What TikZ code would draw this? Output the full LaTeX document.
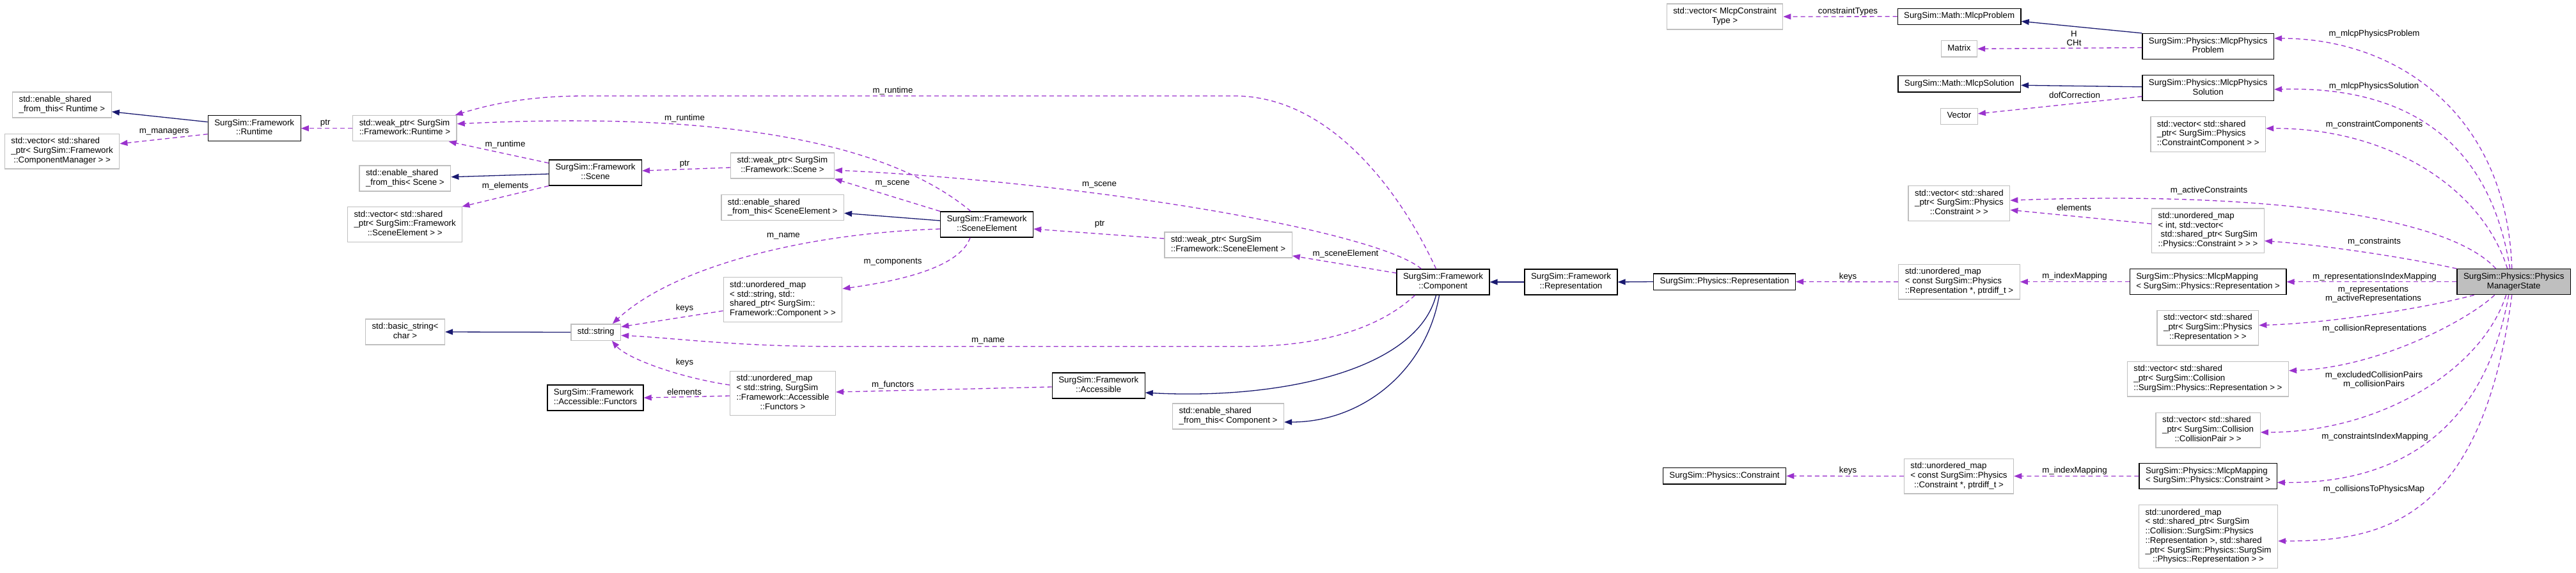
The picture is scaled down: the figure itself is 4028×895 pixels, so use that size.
\documentclass[tikz,border=0pt]{standalone}
\usepackage{fontspec}
\setmainfont{Liberation Sans}
\usetikzlibrary{arrows.meta}
\definecolor{EdgePurple}{HTML}{9A32CD}
\definecolor{EdgeBlue}{HTML}{191970}
\definecolor{BoxGray}{HTML}{BFBFBF}
% lines left aligned, last line centred
\newcommand{\dx}[2]{\begin{tabular}{@{}l@{}}#1\\\multicolumn{1}{@{}c@{}}{#2}\end{tabular}}

\begin{document}
\begin{tikzpicture}[x=1pt, y=-1pt,
  box/.style={rectangle, font=\fontsize{13.3}{14.7}\selectfont, inner xsep=10pt, inner ysep=5.3pt, line width=1.3pt, fill=white},
  cls/.style={box, draw=black},
  ext/.style={box, draw=BoxGray},
  mgr/.style={box, draw=black, fill=BoxGray},
  usage/.style={EdgePurple, line width=1.3pt, dash pattern=on 7pt off 5pt, -{Triangle[length=12pt,width=9pt]}},
  inherit/.style={EdgeBlue, line width=1.3pt, -{Triangle[length=12pt,width=9pt]}},
  lbl/.style={font=\fontsize{13.3}{14}\selectfont, inner sep=0pt, align=center}]
  \useasboundingbox (0,0) rectangle (4028,895);
  \fill[white] (0,0) rectangle (4028,895);

  % Framework side
  \node[ext] (esft_runtime) at (96.9,164) {\dx{std::enable\_shared}{\_from\_this< Runtime >}};
  \node[ext] (vec_mgr) at (97.1,236.7) {\dx{std::vector< std::shared\\\_ptr< SurgSim::Framework}{::ComponentManager > >}};
  \node[cls] (runtime) at (397.7,200.7) {\dx{SurgSim::Framework}{::Runtime}};
  \node[ext] (weak_runtime) at (632.9,200.7) {\dx{std::weak\_ptr< SurgSim}{::Framework::Runtime >}};
  \node[ext] (esft_scene) at (633.4,279) {\dx{std::enable\_shared}{\_from\_this< Scene >}};
  \node[ext] (vec_se) at (633.2,351) {\dx{std::vector< std::shared\\\_ptr< SurgSim::Framework}{::SceneElement > >}};
  \node[ext] (basic_string) at (633.5,519) {\dx{std::basic\_string<}{char >}};
  \node[cls] (scene) at (931,270) {\dx{SurgSim::Framework}{::Scene}};
  \node[ext] (string) at (931.8,519.5) {\strut std::string};
  \node[cls] (functors) at (931,622) {\dx{SurgSim::Framework}{::Accessible::Functors}};
  \node[ext] (weak_scene) at (1223.5,259) {\dx{std::weak\_ptr< SurgSim}{::Framework::Scene >}};
  \node[ext] (esft_se) at (1223.7,324.7) {\dx{std::enable\_shared}{\_from\_this< SceneElement >}};
  \node[ext] (umap_comp) at (1224,468.5) {\dx{std::unordered\_map\\< std::string, std::\\shared\_ptr< SurgSim::}{Framework::Component > >}};
  \node[ext] (umap_func) at (1224,615) {\dx{std::unordered\_map\\< std::string, SurgSim\\::Framework::Accessible}{::Functors >}};
  \node[cls] (scene_element) at (1543,351) {\dx{SurgSim::Framework}{::SceneElement}};
  \node[cls] (accessible) at (1717.7,603) {\dx{SurgSim::Framework}{::Accessible}};
  \node[ext] (weak_se) at (1920.5,383) {\dx{std::weak\_ptr< SurgSim}{::Framework::SceneElement >}};
  \node[ext] (esft_comp) at (1920.6,651) {\dx{std::enable\_shared}{\_from\_this< Component >}};
  \node[cls] (component) at (2256.5,441) {\dx{SurgSim::Framework}{::Component}};
  \node[cls] (representation_fw) at (2456.5,441) {\dx{SurgSim::Framework}{::Representation}};

  % Physics side
  \node[cls] (phys_rep) at (2696.5,440.5) {\strut SurgSim::Physics::Representation};
  \node[cls] (phys_constraint) at (2696.5,744.3) {\strut SurgSim::Physics::Constraint};
  \node[ext] (vec_mct) at (2697,26) {\dx{std::vector< MlcpConstraint}{Type >}};
  \node[cls] (math_problem) at (3063.6,25.8) {\strut SurgSim::Math::MlcpProblem};
  \node[ext] (matrix) at (3063.4,76.3) {\strut Matrix};
  \node[cls] (math_solution) at (3063.7,131.3) {\strut SurgSim::Math::MlcpSolution};
  \node[ext] (vector) at (3063.4,181.8) {\strut Vector};
  \node[ext] (vec_constraint) at (3063.4,317.8) {\dx{std::vector< std::shared\\\_ptr< SurgSim::Physics}{::Constraint > >}};
  \node[ext] (umap_rep) at (3063.5,440.7) {\dx{std::unordered\_map\\< const SurgSim::Physics}{::Representation *, ptrdiff\_t >}};
  \node[ext] (umap_con) at (3063,744.5) {\dx{std::unordered\_map\\< const SurgSim::Physics}{::Constraint *, ptrdiff\_t >}};
  \node[cls] (mlcp_phys_problem) at (3452.7,72.5) {\dx{SurgSim::Physics::MlcpPhysics}{Problem}};
  \node[cls] (mlcp_phys_solution) at (3452.7,137.8) {\dx{SurgSim::Physics::MlcpPhysics}{Solution}};
  \node[ext] (vec_cc) at (3452.7,209.8) {\dx{std::vector< std::shared\\\_ptr< SurgSim::Physics}{::ConstraintComponent > >}};
  \node[ext] (umap_int) at (3452.5,360.7) {\dx{std::unordered\_map\\< int, std::vector<\\\hspace{4pt}std::shared\_ptr< SurgSim}{::Physics::Constraint > > >}};
  \node[cls] (mlcp_map_rep) at (3452.6,440.7) {\dx{SurgSim::Physics::MlcpMapping}{< SurgSim::Physics::Representation >}};
  \node[ext] (vec_rep) at (3452.4,512.6) {\dx{std::vector< std::shared\\\_ptr< SurgSim::Physics}{::Representation > >}};
  \node[ext] (vec_cpr) at (3452.4,592.6) {\dx{std::vector< std::shared\\\_ptr< SurgSim::Collision}{::SurgSim::Physics::Representation > >}};
  \node[ext] (vec_cp) at (3452.6,672.6) {\dx{std::vector< std::shared\\\_ptr< SurgSim::Collision}{::CollisionPair > >}};
  \node[cls] (mlcp_map_con) at (3452.6,744.4) {\dx{SurgSim::Physics::MlcpMapping}{< SurgSim::Physics::Constraint >}};
  \node[ext] (umap_coll) at (3453,839) {\dx{std::unordered\_map\\< std::shared\_ptr< SurgSim\\::Collision::SurgSim::Physics\\::Representation >, std::shared\\\_ptr< SurgSim::Physics::SurgSim}{::Physics::Representation > >}};
  \node[mgr] (manager) at (3930.7,440.7) {\dx{SurgSim::Physics::Physics}{ManagerState}};

  % Inheritance
  \draw[inherit] ([yshift=10pt]runtime.west) -- ([yshift=-10.7pt]esft_runtime.east);
  \draw[inherit] ([yshift=-2pt]scene.west) -- ([yshift=2.3pt]esft_scene.east);
  \draw[inherit] ([yshift=6pt]scene_element.west) -- ([yshift=-8.6pt]esft_se.east);
  \draw[inherit] (string.west) -- (basic_string.east);
  \draw[inherit] ([xshift=-11pt]component.south) .. controls (2215,580) and (2000,625) .. ([yshift=-11pt]accessible.east);
  \draw[inherit] ([xshift=-6pt]component.south) .. controls (2230,580) and (2130,660) .. ([yshift=-9pt]esft_comp.east);
  \draw[inherit] (representation_fw.west) -- (component.east);
  \draw[inherit] (phys_rep.west) -- (representation_fw.east);
  \draw[inherit] (mlcp_phys_problem.north west) -- ([yshift=-7.5pt]math_problem.east);
  \draw[inherit] ([yshift=2pt]mlcp_phys_solution.west) -- ([yshift=-2pt]math_solution.east);

  % Usage, framework side
  \draw[usage] ([yshift=-9pt]runtime.west) -- ([yshift=12pt]vec_mgr.east);
  \draw[usage] (weak_runtime.west) -- (runtime.east);
  \draw[usage] ([yshift=15pt]scene.west) -- ([xshift=-13pt]weak_runtime.south east);
  \draw[usage] (scene.south west) -- ([xshift=-1pt]vec_se.north east);
  \draw[usage] ([yshift=-3pt]weak_scene.west) -- ([yshift=3pt]scene.east);
  \draw[usage] (scene_element.north west) -- (weak_scene.south east);
  \draw[usage] ([xshift=-25pt]scene_element.north) .. controls (1350,190) and (1000,180) .. ([yshift=7pt]weak_runtime.east);
  \draw[usage] ([yshift=-7pt]scene_element.west) .. controls (1250,365) and (1050,420) .. ([xshift=26pt]string.north);
  \draw[usage] ([xshift=-26pt]scene_element.south) .. controls (1500,420) and (1400,440) .. ([yshift=17pt]umap_comp.east);
  \draw[usage] ([yshift=10pt]weak_se.west) -- ([yshift=-7pt]scene_element.east);
  \draw[usage] ([yshift=14pt]component.west) -- ([yshift=-17pt]weak_se.east);
  \draw[usage] ([xshift=-44pt]component.south) .. controls (2150,520) and (2050,541.7) .. (1944,541.7)
    -- (1300,541.7) .. controls (1150,541.7) and (1050,528) .. ([yshift=-5pt]string.east);
  \draw[usage] ([xshift=-11pt]component.north) .. controls (2190,300) and (2080,150) .. (1930,150)
    -- (915,150) .. controls (820,150) and (760,165) .. ([xshift=-3pt]weak_runtime.north east);
  \draw[usage] ([xshift=-34pt]component.north) .. controls (2150,360) and (1700,285) .. ([yshift=-7pt]weak_scene.east);
  \draw[usage] ([yshift=-17.5pt]umap_comp.west) -- ([yshift=8.5pt]string.east);
  \draw[usage] ([yshift=13pt]umap_func.west) .. controls (1060,590) and (980,560) .. ([xshift=25pt]string.south);
  \draw[usage] ([yshift=-4pt]umap_func.west) -- (functors.east);
  \draw[usage] ([yshift=-2pt]accessible.west) -- ([yshift=2pt]umap_func.east);

  % Usage, physics side
  \draw[usage] (math_problem.west) -- (vec_mct.east);
  \draw[usage] ([yshift=-2pt]mlcp_phys_problem.west) -- (matrix.east);
  \draw[usage] ([yshift=-13pt]mlcp_phys_solution.west) -- ([yshift=4pt]vector.east);
  \draw[usage] ([yshift=10.7pt]umap_int.west) -- ([yshift=-10.5pt]vec_constraint.east);
  \draw[usage] (mlcp_map_rep.west) -- (umap_rep.east);
  \draw[usage] (umap_rep.west) -- (phys_rep.east);
  \draw[usage] (mlcp_map_con.west) -- (umap_con.east);
  \draw[usage] (umap_con.west) -- (phys_constraint.east);

  % Members of the state
  \draw[usage] ([xshift=-3pt]manager.north) .. controls (3920,180) and (3750,60) .. ([yshift=12.5pt]mlcp_phys_problem.east);
  \draw[usage] ([xshift=-6pt]manager.north) .. controls (3890,200) and (3740,135) .. ([yshift=-2pt]mlcp_phys_solution.east);
  \draw[usage] ([xshift=-10pt]manager.north) .. controls (3880,290) and (3730,200) .. ([yshift=9pt]vec_cc.east);
  \draw[usage] ([xshift=-28pt]manager.north) .. controls (3820,330) and (3500,300) .. ([yshift=4.5pt]vec_constraint.east);
  \draw[usage] (manager.north west) .. controls (3750,400) and (3620,382) .. ([yshift=-16pt]umap_int.east);
  \draw[usage] (manager.west) -- (mlcp_map_rep.east);
  \draw[usage] ([xshift=-62pt]manager.south) .. controls (3800,480) and (3650,505) .. ([yshift=4pt]vec_rep.east);
  \draw[usage] ([xshift=-30pt]manager.south) .. controls (3860,500) and (3720,575) .. ([yshift=13pt]vec_cpr.east);
  \draw[usage] ([xshift=-12pt]manager.south) .. controls (3880,580) and (3720,676) .. ([yshift=-3.4pt]vec_cp.east);
  \draw[usage] ([xshift=-8pt]manager.south) .. controls (3880,700) and (3720,756) .. ([yshift=-10pt]mlcp_map_con.east);
  \draw[usage] ([xshift=-3pt]manager.south) .. controls (3880,820) and (3720,846) .. ([yshift=-7pt]umap_coll.east);

  % Edge labels
  \foreach \n/\x/\y/\txt in {lb_managers/256.7/206/m\_managers, lb_ptrrt/508.7/192.7/ptr,
      lb_rtscene/790/225.7/m\_runtime, lb_elements/790/290.7/m\_elements,
      lb_ptrscene/1070.6/256.7/ptr, lb_rtse/1070.5/185/m\_runtime,
      lb_rtcomp/1396/141.7/m\_runtime, lb_scenese/1395.6/287/m\_scene,
      lb_scenecomp/1719/289/m\_scene, lb_namese/1225/369/m\_name,
      lb_components/1396/410/m\_components, lb_ptrse/1719.6/351/ptr,
      lb_seelem/2104/396.7/m\_sceneElement, lb_keysa/1070.5/482/keys,
      lb_namecomp/1545/533.7/m\_name, lb_keysb/1070.5/567/keys,
      lb_elemfunc/1070/613/elements, lb_functors/1396/601.7/m\_functors}{
    \node[lbl] (\n) at (\x,\y) {\txt};
  }
  \foreach \n/\x/\y/\txt in {lb_ctypes/2889.5/17.7/constraintTypes, lb_hcht/3243/59.7/H\\CHt,
      lb_dof/3244/148.7/dofCorrection, lb_active/3454/297.7/m\_activeConstraints,
      lb_elemcon/3243/325/elements, lb_keysrep/2889.5/432.7/keys,
      lb_maprep/3244/432.5/m\_indexMapping, lb_keyscon/2889.5/736/keys,
      lb_mapcon/3244/736.3/m\_indexMapping, lb_problem/3712.5/52.7/m\_mlcpPhysicsProblem,
      lb_solution/3712/134.7/m\_mlcpPhysicsSolution, lb_ccomp/3712.5/194.7/m\_constraintComponents,
      lb_constraints/3712.5/377.7/m\_constraints, lb_repidx/3713/432.7/m\_representationsIndexMapping,
      lb_reps/3711/459.7/m\_representations\\m\_activeRepresentations,
      lb_collreps/3713/513.7/m\_collisionRepresentations,
      lb_pairs/3712/594.2/m\_excludedCollisionPairs\\m\_collisionPairs,
      lb_conidx/3713.5/683/m\_constraintsIndexMapping, lb_collmap/3712/765/m\_collisionsToPhysicsMap}{
    \node[lbl] (\n) at (\x,\y) {\txt};
  }
\end{tikzpicture}
\end{document}
